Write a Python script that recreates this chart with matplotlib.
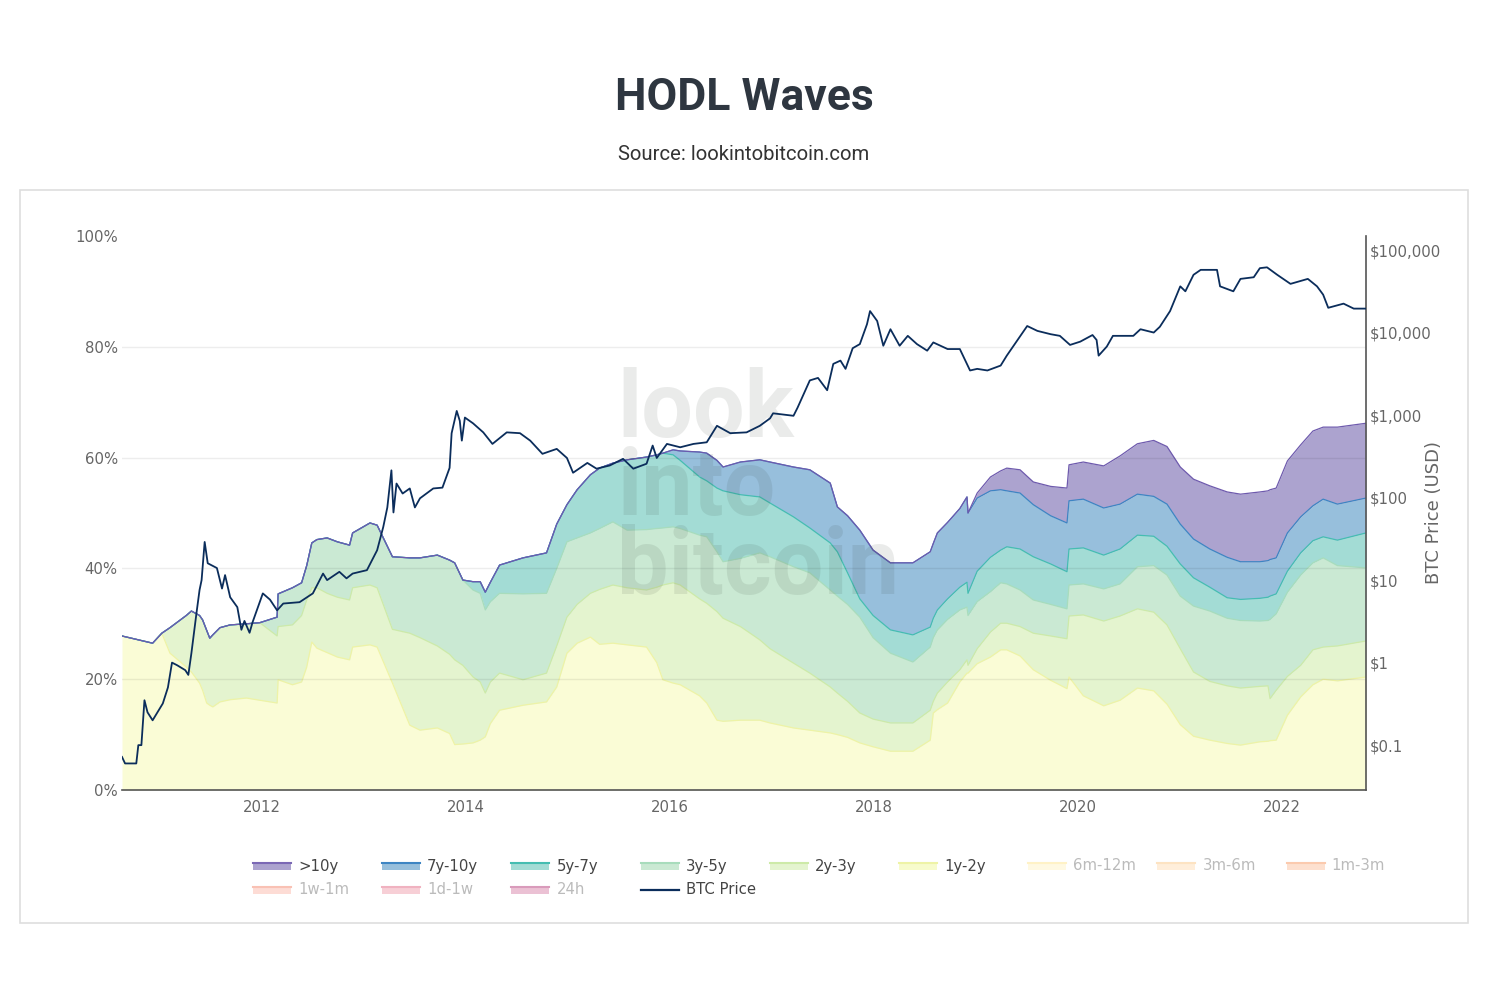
import matplotlib.pyplot as plt
from matplotlib.patches import Rectangle
from matplotlib.lines import Line2D
from matplotlib.ticker import FixedLocator, FixedFormatter, NullLocator
import numpy as np

# ---- data --------------------------------------------------------------
# dates as decimal years, values = upper edge (cumulative %) of each band
wave_dates = [
    2010.63, 2010.93, 2011.02, 2011.10, 2011.26, 2011.31, 2011.39, 2011.42, 2011.46, 2011.49,
    2011.52, 2011.59, 2011.69, 2011.85, 2011.98, 2012.15, 2012.16, 2012.30, 2012.39, 2012.44,
    2012.49, 2012.54, 2012.64, 2012.74, 2012.86, 2012.89, 2013.06, 2013.13, 2013.28, 2013.45,
    2013.55, 2013.72, 2013.84, 2013.89, 2013.97, 2014.07, 2014.14, 2014.19, 2014.24, 2014.33,
    2014.56, 2014.79, 2014.89, 2014.99, 2015.09, 2015.22, 2015.31, 2015.44, 2015.58, 2015.77,
    2015.87, 2015.93, 2016.03, 2016.10, 2016.29, 2016.36, 2016.46, 2016.52, 2016.69, 2016.88,
    2016.98, 2017.21, 2017.37, 2017.57, 2017.64, 2017.74, 2017.86, 2017.99, 2018.16, 2018.38,
    2018.55, 2018.58, 2018.62, 2018.72, 2018.84, 2018.91, 2018.92, 2019.01, 2019.14, 2019.24,
    2019.30, 2019.43, 2019.56, 2019.73, 2019.89, 2019.91, 2020.05, 2020.25, 2020.41, 2020.58,
    2020.74, 2020.87, 2021.00, 2021.13, 2021.29, 2021.46, 2021.59, 2021.78, 2021.86, 2021.88,
    2021.94, 2022.05, 2022.18, 2022.30, 2022.40, 2022.54, 2022.82]

edge_1y_2y = [
    27.8, 26.5, 28.3, 24.7, 22.2, 21.3, 19.3, 18.0, 15.7, 15.3,
    15.0, 15.9, 16.3, 16.6, 16.2, 15.7, 19.9, 19.0, 19.5, 22.2,
    26.7, 25.6, 24.8, 24.0, 23.5, 25.8, 26.2, 25.8, 19.3, 11.7,
    10.8, 11.2, 10.2, 8.2, 8.3, 8.5, 9.0, 9.6, 12.0, 14.4,
    15.3, 15.9, 18.6, 24.7, 26.5, 27.6, 26.3, 26.5, 26.2, 25.8,
    23.0, 19.9, 19.3, 19.0, 17.0, 15.7, 12.6, 12.4, 12.6, 12.6,
    12.1, 11.2, 10.8, 10.3, 10.0, 9.5, 8.5, 7.8, 7.0, 7.0,
    9.0, 13.9, 14.5, 15.7, 19.5, 21.1, 21.1, 22.8, 24.0, 25.3,
    25.3, 24.2, 21.7, 19.8, 18.3, 20.4, 17.0, 15.2, 16.2, 18.4,
    17.9, 15.5, 11.8, 9.7, 9.0, 8.4, 8.1, 8.7, 8.8, 8.9,
    9.0, 13.5, 16.8, 19.0, 20.0, 19.7, 20.4]

edge_2y_3y = [
    27.8, 26.5, 28.3, 29.3, 31.5, 32.3, 31.5, 30.7, 28.8, 27.4,
    28.0, 29.3, 29.8, 30.0, 30.2, 27.8, 29.5, 29.8, 31.5, 34.3,
    36.5, 36.5, 35.5, 34.8, 34.3, 36.5, 37.0, 36.5, 29.0, 28.3,
    27.5, 26.0, 24.5, 23.5, 22.5, 20.4, 19.5, 17.5, 19.5, 21.1,
    19.9, 21.1, 26.0, 31.2, 33.5, 35.5, 36.2, 37.0, 36.5, 36.1,
    36.6, 37.0, 37.4, 37.0, 34.5, 33.7, 32.2, 31.0, 29.5, 27.1,
    25.5, 22.9, 21.1, 18.6, 17.5, 16.0, 13.9, 12.8, 12.1, 12.1,
    14.4, 16.0, 17.5, 19.5, 21.7, 23.5, 22.5, 25.5, 28.5, 30.1,
    30.1, 29.5, 28.3, 27.8, 27.3, 31.4, 31.6, 30.5, 31.4, 32.7,
    32.1, 29.8, 25.5, 21.3, 19.6, 18.8, 18.4, 18.7, 18.8, 16.5,
    18.0, 20.5, 22.5, 25.3, 25.8, 26.0, 26.9]

edge_3y_5y = [
    27.8, 26.5, 28.3, 29.3, 31.5, 32.3, 31.5, 30.7, 28.8, 27.4,
    28.0, 29.3, 29.8, 30.0, 30.2, 31.2, 35.4, 36.5, 37.4, 40.5,
    44.6, 45.2, 45.5, 44.8, 44.2, 46.4, 48.2, 47.8, 42.1, 41.9,
    41.9, 42.4, 41.5, 41.0, 37.9, 36.1, 35.5, 32.5, 34.0, 35.5,
    35.4, 35.5, 40.0, 44.8, 45.5, 46.4, 47.2, 48.4, 46.9, 47.0,
    47.2, 47.3, 47.5, 47.2, 46.0, 45.7, 43.0, 41.2, 41.8, 42.8,
    42.1, 40.3, 39.2, 36.1, 35.0, 33.5, 31.2, 27.5, 24.7, 23.1,
    25.8, 27.5, 28.9, 30.8, 32.5, 33.0, 31.5, 34.0, 35.8, 37.4,
    37.2, 36.1, 34.3, 33.5, 32.7, 37.0, 37.2, 36.3, 37.2, 40.3,
    40.5, 38.8, 35.0, 33.2, 32.3, 31.0, 30.6, 30.5, 30.6, 30.8,
    31.8, 35.7, 38.8, 41.0, 41.9, 40.5, 40.1]

edge_5y_7y = [
    27.8, 26.5, 28.3, 29.3, 31.5, 32.3, 31.5, 30.7, 28.8, 27.4,
    28.0, 29.3, 29.8, 30.0, 30.2, 31.2, 35.4, 36.5, 37.4, 40.5,
    44.6, 45.2, 45.5, 44.8, 44.2, 46.4, 48.2, 47.8, 42.1, 41.9,
    41.9, 42.4, 41.5, 41.0, 37.9, 37.6, 37.6, 35.7, 37.5, 40.6,
    41.9, 42.8, 48.0, 51.5, 54.2, 56.9, 58.1, 59.0, 59.6, 60.1,
    60.5, 60.8, 60.5, 59.5, 56.5, 55.8, 54.5, 54.0, 53.3, 52.9,
    51.8, 49.3, 47.3, 44.6, 43.0, 39.2, 34.5, 31.5, 28.9, 28.0,
    29.4, 31.0, 32.5, 34.5, 36.6, 37.5, 35.5, 39.5, 42.0, 43.3,
    43.9, 43.5, 42.1, 40.8, 39.4, 43.5, 43.7, 42.4, 43.5, 46.0,
    45.8, 44.0, 40.8, 38.3, 36.6, 34.7, 34.4, 34.6, 34.8, 35.0,
    35.4, 39.5, 42.8, 45.0, 45.7, 45.1, 46.4]

edge_7y_10y = [
    27.8, 26.5, 28.3, 29.3, 31.5, 32.3, 31.5, 30.7, 28.8, 27.4,
    28.0, 29.3, 29.8, 30.0, 30.2, 31.2, 35.4, 36.5, 37.4, 40.5,
    44.6, 45.2, 45.5, 44.8, 44.2, 46.4, 48.2, 47.8, 42.1, 41.9,
    41.9, 42.4, 41.5, 41.0, 37.9, 37.6, 37.6, 35.7, 37.5, 40.6,
    41.9, 42.8, 48.0, 51.5, 54.2, 56.9, 58.1, 59.0, 59.6, 60.1,
    60.5, 60.8, 61.4, 61.2, 61.0, 60.8, 59.5, 58.3, 59.2, 59.6,
    59.2, 58.3, 57.8, 55.4, 51.1, 49.5, 46.9, 43.3, 41.0, 41.0,
    43.0, 44.5, 46.4, 48.3, 50.8, 52.9, 50.0, 52.7, 54.0, 54.2,
    54.0, 53.6, 51.5, 49.5, 48.2, 52.2, 52.5, 50.9, 51.6, 53.4,
    53.0, 51.6, 48.0, 45.3, 43.5, 42.0, 41.2, 41.2, 41.4, 41.6,
    41.9, 46.4, 49.3, 51.3, 52.5, 51.6, 52.7]

edge_10y = [
    27.8, 26.5, 28.3, 29.3, 31.5, 32.3, 31.5, 30.7, 28.8, 27.4,
    28.0, 29.3, 29.8, 30.0, 30.2, 31.2, 35.4, 36.5, 37.4, 40.5,
    44.6, 45.2, 45.5, 44.8, 44.2, 46.4, 48.2, 47.8, 42.1, 41.9,
    41.9, 42.4, 41.5, 41.0, 37.9, 37.6, 37.6, 35.7, 37.5, 40.6,
    41.9, 42.8, 48.0, 51.5, 54.2, 56.9, 58.1, 59.0, 59.6, 60.1,
    60.5, 60.8, 61.4, 61.2, 61.0, 60.8, 59.5, 58.3, 59.2, 59.6,
    59.2, 58.3, 57.8, 55.4, 51.1, 49.5, 46.9, 43.3, 41.0, 41.0,
    43.0, 44.5, 46.4, 48.3, 50.8, 52.9, 50.0, 53.6, 56.5, 57.6,
    58.1, 57.8, 55.6, 54.8, 54.5, 58.7, 59.2, 58.5, 60.3, 62.5,
    63.1, 62.0, 58.3, 56.1, 54.9, 53.8, 53.4, 53.8, 54.0, 54.2,
    54.5, 59.4, 62.3, 64.8, 65.5, 65.5, 66.2]

price_dates = [
    2010.63, 2010.66, 2010.77, 2010.79, 2010.82, 2010.85, 2010.88, 2010.93, 2011.03, 2011.08,
    2011.12, 2011.17, 2011.25, 2011.28, 2011.31, 2011.36, 2011.39, 2011.41, 2011.44, 2011.47,
    2011.56, 2011.61, 2011.64, 2011.69, 2011.76, 2011.80, 2011.83, 2011.88, 2011.91, 2012.01,
    2012.08, 2012.15, 2012.21, 2012.37, 2012.50, 2012.60, 2012.64, 2012.76, 2012.83, 2012.89,
    2013.03, 2013.13, 2013.19, 2013.23, 2013.27, 2013.29, 2013.32, 2013.38, 2013.45, 2013.50,
    2013.55, 2013.68, 2013.77, 2013.84, 2013.86, 2013.91, 2013.94, 2013.96, 2013.99, 2014.07,
    2014.17, 2014.26, 2014.40, 2014.53, 2014.63, 2014.75, 2014.89, 2014.99, 2015.05, 2015.19,
    2015.28, 2015.41, 2015.54, 2015.64, 2015.77, 2015.83, 2015.87, 2015.97, 2016.10, 2016.23,
    2016.36, 2016.46, 2016.59, 2016.75, 2016.88, 2016.98, 2017.01, 2017.21, 2017.25, 2017.37,
    2017.45, 2017.54, 2017.60, 2017.67, 2017.72, 2017.79, 2017.86, 2017.93, 2017.96, 2018.03,
    2018.09, 2018.16, 2018.25, 2018.33, 2018.42, 2018.52, 2018.58, 2018.72, 2018.84, 2018.91,
    2018.94, 2019.01, 2019.11, 2019.24, 2019.30, 2019.40, 2019.50, 2019.60, 2019.73, 2019.82,
    2019.92, 2020.02, 2020.14, 2020.18, 2020.20, 2020.28, 2020.34, 2020.54, 2020.61, 2020.74,
    2020.80, 2020.90, 2021.00, 2021.05, 2021.13, 2021.20, 2021.29, 2021.36, 2021.39, 2021.52,
    2021.59, 2021.72, 2021.78, 2021.85, 2021.95, 2022.08, 2022.25, 2022.34, 2022.40, 2022.45,
    2022.60, 2022.70, 2022.82]

price_usd = [
    0.072, 0.06, 0.06, 0.10, 0.10, 0.35, 0.25, 0.20, 0.32, 0.50,
    1.0, 0.93, 0.81, 0.71, 1.3, 4.0, 7.6, 10, 29, 16,
    14, 7.9, 11.5, 6.2, 4.7, 2.5, 3.2, 2.3, 3.1, 6.9,
    5.8, 4.3, 5.2, 5.4, 6.9, 12, 10, 12.6, 10.5, 12,
    13.2, 23, 44, 76, 214, 66, 148, 112, 129, 76,
    98, 129, 132, 229, 603, 1122, 851, 490, 933, 794,
    617, 447, 617, 603, 490, 339, 389, 302, 200, 263,
    224, 245, 295, 224, 257, 427, 302, 447, 407, 447,
    468, 741, 603, 617, 741, 912, 1050, 980, 1230, 2630,
    2820, 2000, 4170, 4570, 3630, 6460, 7240, 12600, 18200, 13800,
    6920, 10970, 6920, 9120, 7240, 6030, 7590, 6310, 6310, 4170,
    3470, 3630, 3470, 3980, 5250, 7940, 12000, 10470, 9550, 9120,
    7080, 7760, 9330, 8130, 5250, 6760, 9120, 9120, 10970, 10000,
    11750, 18200, 36300, 31600, 50100, 57500, 57500, 57500, 36300, 31600,
    44700, 46800, 60300, 61700, 50100, 38900, 44700, 36300, 28800, 19950,
    22400, 19500, 19500]

wave_names = ['1y-2y', '2y-3y', '3y-5y', '5y-7y', '7y-10y', '>10y']
wave_edges = [edge_1y_2y, edge_2y_3y, edge_3y_5y, edge_5y_7y, edge_7y_10y, edge_10y]
wave_fill = ['#fafcd6', '#e4f4cf', '#cae9d3', '#a3dcd5', '#97bfdc', '#aca3cf']
wave_line = ['#eef3a6', '#cdeaa8', '#a8dcbc', '#45bdb1', '#3d85c3', '#6e5aad']

pct_ticks = [0, 20, 40, 60, 80, 100]
year_ticks = [2012, 2014, 2016, 2018, 2020, 2022]
price_ticks = [0.1, 1, 10, 100, 1000, 10000, 100000]
price_labels = ['$0.1', '$1', '$10', '$100', '$1,000', '$10,000', '$100,000']

# ---- figure ------------------------------------------------------------
W, H = 1488, 986
plt.rcParams['font.family'] = ['DejaVu Sans']
fig = plt.figure(figsize=(W / 100, H / 100), dpi=100)
fig.patch.set_facecolor('white')


def fx(x):
    return x / W


def fy(y):
    return 1 - y / H


ax = fig.add_axes([fx(122), fy(790), (1366 - 122) / W, (790 - 236) / H])

lower = np.zeros(len(wave_dates))
for edge, fc in zip(wave_edges, wave_fill):
    ax.fill_between(wave_dates, lower, edge, color=fc, lw=0, zorder=1)
    lower = np.array(edge)
for edge, lc in zip(wave_edges, wave_line):
    ax.plot(wave_dates, edge, color=lc, lw=0.9, zorder=2)

for v in pct_ticks[1:-1]:
    ax.axhline(v, color='black', alpha=0.07, lw=1, zorder=3)

# watermark (one wrapped text, sits under the price line)
# va='baseline' pins the baseline of the last line
ax.text(fx(617), fy(594), 'look\ninto\nbitcoin', transform=fig.transFigure,
        family='Roboto', fontweight='bold', fontsize=66, va='baseline', ha='left',
        linespacing=0.85, color='#1e2a1e', alpha=0.09, zorder=4)

ax.set_xlim(2010.63, 2022.82)
ax.set_ylim(0, 100)
ax.set_xticks(year_ticks)
ax.set_xticklabels([str(y) for y in year_ticks])
ax.set_yticks(pct_ticks)
ax.set_yticklabels([f'{p}%' for p in pct_ticks])
ax.tick_params(axis='both', length=0, labelsize=10.7, labelcolor='#666666')
ax.tick_params(axis='x', pad=7)
ax.tick_params(axis='y', pad=3)
for s in ['top', 'left', 'right']:
    ax.spines[s].set_visible(False)
ax.spines['bottom'].set_color('#555555')
ax.spines['bottom'].set_linewidth(1.2)
ax.spines['bottom'].set_zorder(5)

# BTC price on log axis
ax2 = ax.twinx()
ax2.plot(price_dates, price_usd, color='#0b2d5b', lw=1.3, zorder=5)
ax2.set_yscale('log')
ax2.set_ylim(0.0286, 1.479e5)
ax2.yaxis.set_major_locator(FixedLocator(price_ticks))
ax2.yaxis.set_major_formatter(FixedFormatter(price_labels))
ax2.yaxis.set_minor_locator(NullLocator())
ax2.tick_params(axis='y', length=0, pad=3, labelsize=10.7, labelcolor='#666666')
for s in ['top', 'left', 'bottom']:
    ax2.spines[s].set_visible(False)
ax2.spines['right'].set_color('#555555')
ax2.spines['right'].set_linewidth(1.2)
ax2.set_ylabel('BTC Price (USD)', fontsize=13, color='#666666', rotation=90)
ax2.yaxis.set_label_coords(1.0474, 0.5)

# titles
fig.text(0.5, fy(98), 'HODL Waves', ha='center', va='center', fontsize=32,
         fontweight='bold', family='Roboto', color='#2e3640')
fig.text(0.5, fy(155), 'Source: lookintobitcoin.com', ha='center', va='center',
         fontsize=14.6, family='Roboto', color='#333333')

# outer frame
fig.add_artist(Rectangle((fx(20), fy(923)), 1448 / W, 733 / H, transform=fig.transFigure,
                         fill=False, ec='#dedede', lw=1.2))

# legend drawn as in the original (two rows, fixed column spacing)
legend_items = [
    ('>10y', '#aca3cf', '#7b68b5', False), ('7y-10y', '#97bfdc', '#3d85c3', False),
    ('5y-7y', '#a3dcd5', '#45bdb1', False), ('3y-5y', '#cae9d3', '#a8dcbc', False),
    ('2y-3y', '#e4f4cf', '#cdeaa8', False), ('1y-2y', '#f7fbcc', '#eef3a6', False),
    ('6m-12m', '#fff9e2', '#fff2c6', True), ('3m-6m', '#ffeeda', '#fde3c2', True),
    ('1m-3m', '#fde0cf', '#fbcaae', True), ('1w-1m', '#fddcd5', '#f9c1b4', True),
    ('1d-1w', '#f7cfd6', '#f0b2c0', True), ('24h', '#ebc1d4', '#d99bbb', True),
]
col_x = [253 + 129.2 * i for i in range(9)]
row_y = [866, 890]
for i, (name, fc, lc, hidden) in enumerate(legend_items):
    x0 = col_x[i % 9]
    y0 = row_y[i // 9]
    fig.add_artist(Rectangle((fx(x0), fy(y0 + 4)), 38 / W, 8 / H, transform=fig.transFigure,
                             fc=fc, ec='none'))
    fig.add_artist(Line2D([fx(x0), fx(x0 + 38)], [fy(y0 - 3), fy(y0 - 3)],
                          transform=fig.transFigure, color=lc, lw=1.5))
    fig.text(fx(x0 + 45), fy(y0), name, ha='left', va='center', fontsize=10.7,
             color='#bbbbbb' if hidden else '#444444')

x0 = col_x[3]
fig.add_artist(Line2D([fx(x0), fx(x0 + 38)], [fy(row_y[1]), fy(row_y[1])],
                      transform=fig.transFigure, color='#0b2d5b', lw=1.6))
fig.text(fx(x0 + 45), fy(row_y[1]), 'BTC Price', ha='left', va='center', fontsize=10.7,
         color='#444444')

fig.savefig('out.png', dpi=100, facecolor='white')
